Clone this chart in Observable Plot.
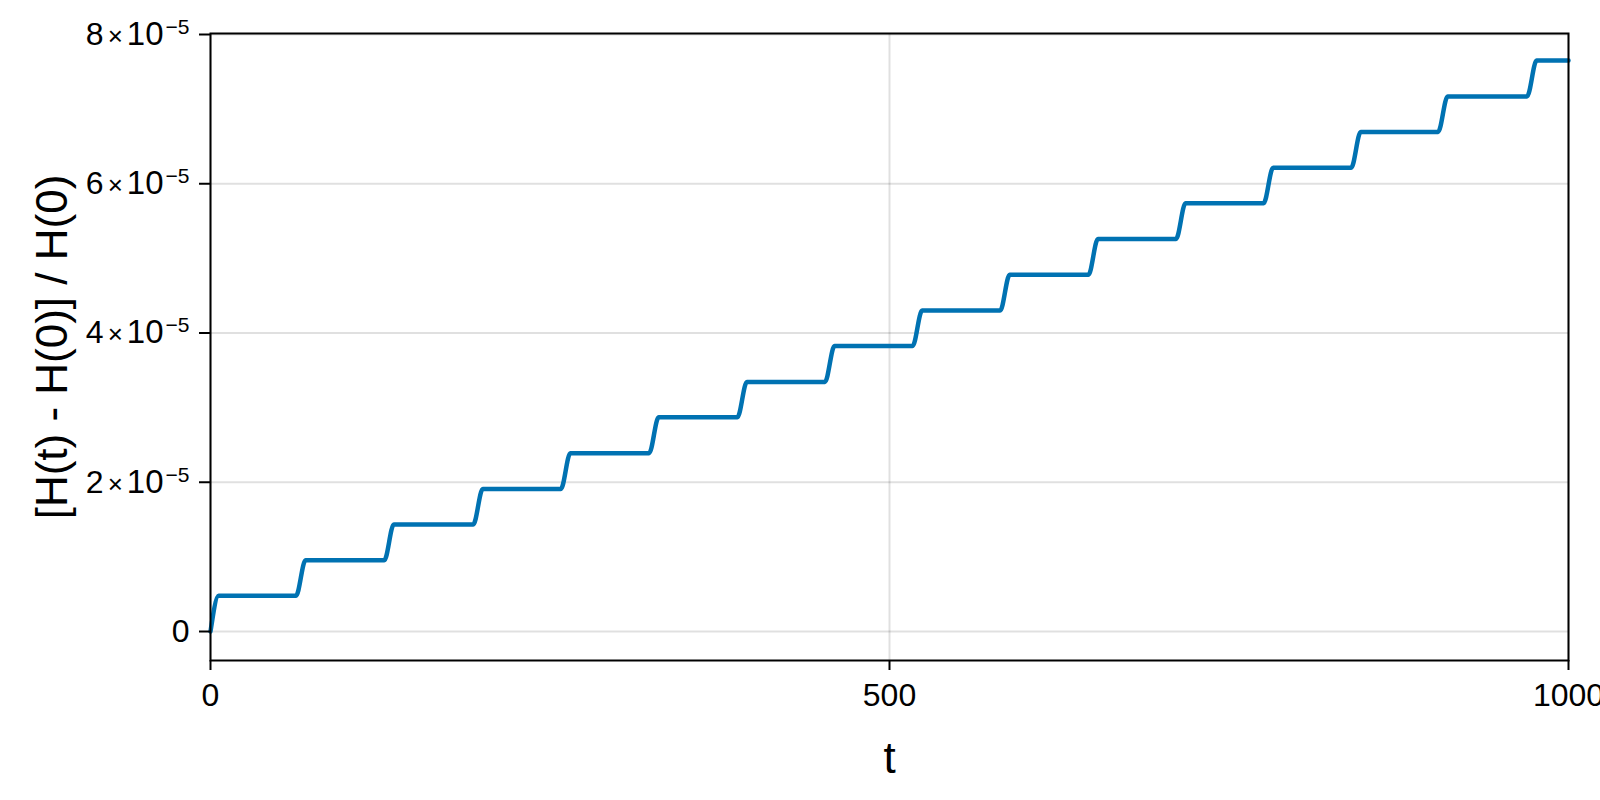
<!DOCTYPE html>
<html>
<head>
<meta charset="utf-8">
<script src="https://cdn.jsdelivr.net/npm/d3@7"></script>
<script src="https://cdn.jsdelivr.net/npm/@observablehq/plot@0.6"></script>
<style>
  html, body { margin: 0; padding: 0; background: white; }
</style>
</head>
<body>
<div id="chart"></div>
<script>
// Step times (start and end of each rise) and plateau levels
const stepStart = [0, 63, 128, 193.5, 258, 323, 388, 452.5, 517, 581.5, 646.5, 711, 775.5, 840, 904, 969.5];
const stepEnd   = [6, 70, 135, 200.5, 265, 330, 395, 459.5, 524, 588.5, 653.5, 718, 782.5, 847, 911, 976.5];
const levels = [0.48e-5, 0.955e-5, 1.435e-5, 1.91e-5, 2.39e-5, 2.87e-5, 3.345e-5, 3.825e-5,
                4.30e-5, 4.78e-5, 5.26e-5, 5.74e-5, 6.215e-5, 6.695e-5, 7.17e-5, 7.65e-5];
const tEnd = 1000;
const xTicks = [0, 500, 1000];
const yTicks = [0, 2e-5, 4e-5, 6e-5, 8e-5];

const pts = [];
let prev = 0;
for (let i = 0; i < stepStart.length; i++) {
  pts.push({t: stepStart[i], v: prev});
  pts.push({t: stepEnd[i], v: levels[i]});
  prev = levels[i];
}
pts.push({t: tEnd, v: prev});

const yFmt = d => {
  const m = Math.round(d * 1e5);
  return m === 0 ? "0" : `${m}×10−5`;
};

const chart = Plot.plot({
  width: 1600,
  height: 800,
  marginLeft: 210,
  marginRight: 32,
  marginTop: 33,
  marginBottom: 140,
  style: {fontFamily: "'Liberation Sans', Arial, sans-serif", fontSize: "32px", background: "white", color: "black"},
  x: {domain: [0, 1000]},
  y: {domain: [-0.3886e-5, 8.0134e-5]},
  marks: [
    Plot.ruleY(yTicks, {stroke: "black", strokeOpacity: 0.12, strokeWidth: 2}),
    Plot.ruleX(xTicks, {stroke: "black", strokeOpacity: 0.12, strokeWidth: 2}),
    Plot.line(pts, {x: "t", y: "v", stroke: "#0072B2", strokeWidth: 4.5, curve: "monotone-x"}),
    Plot.frame({stroke: "black", strokeWidth: 2}),
    Plot.axisX({ticks: xTicks, tickSize: 10, tickPadding: 13, strokeWidth: 2, fontSize: 32,
      tickFormat: d => String(d),
      label: "t", labelAnchor: "center", labelArrow: "none", labelOffset: 112}),
    Plot.axisY({ticks: yTicks, tickSize: 11, tickPadding: 10, strokeWidth: 2, fontSize: 32,
      tickFormat: yFmt,
      label: "[H(t) - H(0)] / H(0)", labelAnchor: "center", labelArrow: "none", labelOffset: 175})
  ]
});

// enlarge axis titles
d3.select(chart).selectAll("g[aria-label='x-axis label'] text, g[aria-label='y-axis label'] text")
  .style("font-size", "44px");

// scientific tick labels with a real superscript exponent
d3.select(chart).selectAll("g[aria-label='y-axis tick label'] text").each(function () {
  const s = this.textContent;
  const m = s.match(/^(\d+)×10(−\d+)$/);
  if (!m) return;
  const t = d3.select(this);
  t.text(null);
  t.append("tspan").text(m[1]);
  t.append("tspan").attr("dx", 4).attr("font-size", 26).text("×");
  t.append("tspan").attr("dx", 4).attr("font-size", 33).text("10");
  t.append("tspan").attr("dx", 2).attr("dy", -11).attr("font-size", 21).text(m[2]);
});

document.getElementById("chart").appendChild(chart);
</script>
</body>
</html>
